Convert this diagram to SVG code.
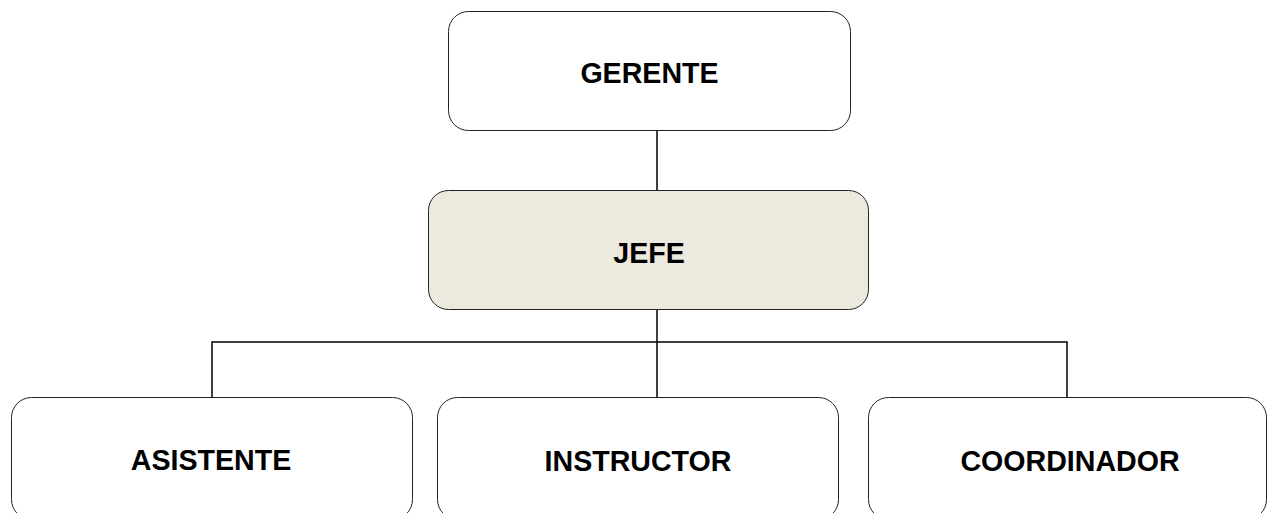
<svg xmlns="http://www.w3.org/2000/svg" width="1267" height="513" viewBox="0 0 1267 513">
<style>
.box{fill:#ffffff;stroke:#222222;stroke-width:1}
.hl{fill:#ECE9DF}
.lbl{font-family:"Liberation Sans",Arial,sans-serif;font-weight:bold;font-size:28.6px;fill:#000000;text-anchor:middle}
.con{fill:none;stroke:#000000;stroke-width:1.5}
</style>
<rect width="1267" height="513" fill="#ffffff"/>
<g id="connectors">
<line class="con" x1="657" y1="131" x2="657" y2="190"/>
<line class="con" x1="657" y1="310" x2="657" y2="397"/>
<polyline class="con" points="212,397 212,342 1067,342 1067,397"/>
</g>
<g id="gerente">
<rect class="box" x="448.5" y="11.5" width="402" height="119" rx="20"/>
<text class="lbl" x="649.5" y="82.5">GERENTE</text>
</g>
<g id="jefe">
<rect class="box hl" x="428.5" y="190.5" width="440" height="119" rx="20"/>
<text class="lbl" x="649" y="262.5">JEFE</text>
</g>
<g id="asistente">
<rect class="box" x="11.5" y="397.5" width="401" height="122" rx="20"/>
<text class="lbl" x="211" y="469.5">ASISTENTE</text>
</g>
<g id="instructor">
<rect class="box" x="437.5" y="397.5" width="401" height="122" rx="20"/>
<text class="lbl" x="638" y="470.5">INSTRUCTOR</text>
</g>
<g id="coordinador">
<rect class="box" x="868.5" y="397.5" width="398" height="122" rx="20"/>
<text class="lbl" x="1070" y="470.5">COORDINADOR</text>
</g>
</svg>
